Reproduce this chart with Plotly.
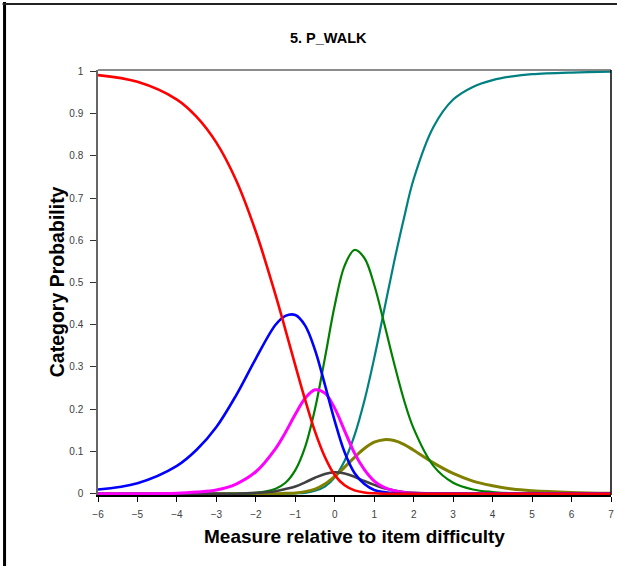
import plotly.graph_objects as go

# category probability curves
measure = [-6, -5, -4, -3.5, -3, -2.5, -2, -1.5, -1.25, -1, -0.75, -0.5, -0.25, 0,
           0.25, 0.5, 0.75, 1, 1.25, 1.5, 1.75, 2, 2.5, 3, 3.5, 4, 4.5, 5, 6, 7]

cat0 = [0.991, 0.975, 0.933, 0.892, 0.831, 0.742, 0.620, 0.470, 0.388, 0.304, 0.222, 0.147, 0.087, 0.044,
        0.020, 0.008, 0.003, 0.001, 0.000, 0.000, 0.000, 0.000, 0.000, 0.000, 0.000, 0.000, 0.000, 0.000, 0.000, 0.000]
cat1 = [0.010, 0.025, 0.066, 0.104, 0.158, 0.233, 0.320, 0.400, 0.421, 0.423, 0.398, 0.340, 0.258, 0.172,
        0.098, 0.049, 0.023, 0.009, 0.004, 0.001, 0.000, 0.000, 0.000, 0.000, 0.000, 0.000, 0.000, 0.000, 0.000, 0.000]
cat2 = [0.000, 0.000, 0.001, 0.004, 0.009, 0.023, 0.052, 0.107, 0.145, 0.188, 0.226, 0.246, 0.238, 0.202,
        0.149, 0.096, 0.057, 0.030, 0.015, 0.007, 0.003, 0.001, 0.000, 0.000, 0.000, 0.000, 0.000, 0.000, 0.000, 0.000]
cat3 = [0.000, 0.000, 0.000, 0.000, 0.000, 0.000, 0.002, 0.006, 0.011, 0.017, 0.027, 0.038, 0.047, 0.051,
        0.048, 0.040, 0.030, 0.021, 0.013, 0.008, 0.004, 0.002, 0.001, 0.000, 0.000, 0.000, 0.000, 0.000, 0.000, 0.000]
cat4 = [0.000, 0.000, 0.000, 0.000, 0.000, 0.000, 0.002, 0.012, 0.026, 0.056, 0.111, 0.201, 0.321, 0.446,
        0.540, 0.577, 0.558, 0.494, 0.404, 0.310, 0.223, 0.154, 0.066, 0.026, 0.010, 0.004, 0.001, 0.001, 0.000, 0.000]
cat5 = [0.000, 0.000, 0.000, 0.000, 0.000, 0.000, 0.000, 0.000, 0.001, 0.002, 0.005, 0.011, 0.023, 0.041,
        0.063, 0.086, 0.107, 0.122, 0.128, 0.126, 0.117, 0.103, 0.073, 0.048, 0.030, 0.019, 0.011, 0.007, 0.003, 0.001]
cat6 = [0.000, 0.000, 0.000, 0.000, 0.000, 0.000, 0.000, 0.000, 0.000, 0.001, 0.002, 0.007, 0.017, 0.039,
        0.078, 0.138, 0.220, 0.321, 0.434, 0.547, 0.651, 0.745, 0.868, 0.933, 0.963, 0.979, 0.988, 0.993, 0.997, 0.999]

x_ticks = list(range(-6, 8))
y_ticks = [0, 0.1, 0.2, 0.3, 0.4, 0.5, 0.6, 0.7, 0.8, 0.9, 1]
y_labels = ["0", "0.1", "0.2", "0.3", "0.4", "0.5", "0.6", "0.7", "0.8", "0.9", "1"]

# drawing order: last one ends up on top
series = [
    (cat6, "#008080", 2.2),
    (cat5, "#808000", 3),
    (cat4, "#008000", 2.2),
    (cat3, "#404040", 2.6),
    (cat2, "#FF00FF", 3),
    (cat1, "#0000FF", 2.6),
    (cat0, "#FF0000", 2.6),
]

fig = go.Figure()
for vals, col, w in series:
    fig.add_trace(go.Scatter(x=measure, y=vals, mode="lines",
                             line=dict(color=col, width=w, shape="spline", smoothing=1.0),
                             showlegend=False, hoverinfo="skip"))

font = "Arial, Liberation Sans, sans-serif"
fig.update_layout(
    width=618, height=566,
    margin=dict(l=98, r=4, t=70, b=71),
    paper_bgcolor="white", plot_bgcolor="white",
    showlegend=False,
    xaxis=dict(range=[-6, 7], tickvals=x_ticks, showgrid=False, zeroline=False,
               showline=True, linecolor="black", linewidth=1.5,
               ticks="outside", ticklen=5, tickcolor="black", tickwidth=1,
               ticklabelstandoff=4,
               tickfont=dict(family=font, size=10, color="#404040")),
    yaxis=dict(range=[-0.003, 1.003], tickvals=y_ticks, ticktext=y_labels, showgrid=False,
               zeroline=False, showline=True, linecolor="#666666", linewidth=1.5,
               ticks="outside", ticklen=6, tickcolor="#333333", tickwidth=1,
               ticklabelstandoff=5,
               tickfont=dict(family=font, size=10, color="#404040")),
    annotations=[
        dict(text="<b>5. P_WALK</b>", xref="paper", yref="paper",
             x=(330 - 98) / 516, y=(495 - 38) / 425, showarrow=False,
             xanchor="center", yanchor="middle", font=dict(family=font, size=14.5, color="black")),
        dict(text="<b>Measure relative to item difficulty</b>", xref="paper", yref="paper",
             x=0.5, y=(495 - 536) / 425, showarrow=False,
             xanchor="center", yanchor="middle", font=dict(family=font, size=19, color="black")),
        dict(text="<b>Category Probability</b>", xref="paper", yref="paper",
             x=(57 - 98) / 516, y=(495 - 282) / 425, showarrow=False, textangle=-90,
             xanchor="center", yanchor="middle", font=dict(family=font, size=19.5, color="black")),
    ],
    shapes=[
        # plot box top and right
        dict(type="line", xref="paper", yref="paper", x0=0, x1=1, y0=1, y1=1,
             line=dict(color="#666666", width=1.5)),
        dict(type="line", xref="paper", yref="paper", x0=1, x1=1, y0=0, y1=1,
             line=dict(color="black", width=1.5)),
        # outer frame of the chart
        dict(type="line", xref="paper", yref="paper", x0=(4 - 98) / 516, x1=(4 - 98) / 516,
             y0=(495 - 2) / 425, y1=(495 - 570) / 425, line=dict(color="black", width=3)),
        dict(type="line", xref="paper", yref="paper", x0=(2 - 98) / 516, x1=(620 - 98) / 516,
             y0=(495 - 4) / 425, y1=(495 - 4) / 425, line=dict(color="#222222", width=2)),
    ],
)

# no modebar, and drop the default page margin so the figure sits at the top-left corner
fig.write_html("out.html", config={"displayModeBar": False},
               post_script="document.body.style.margin='0';")
